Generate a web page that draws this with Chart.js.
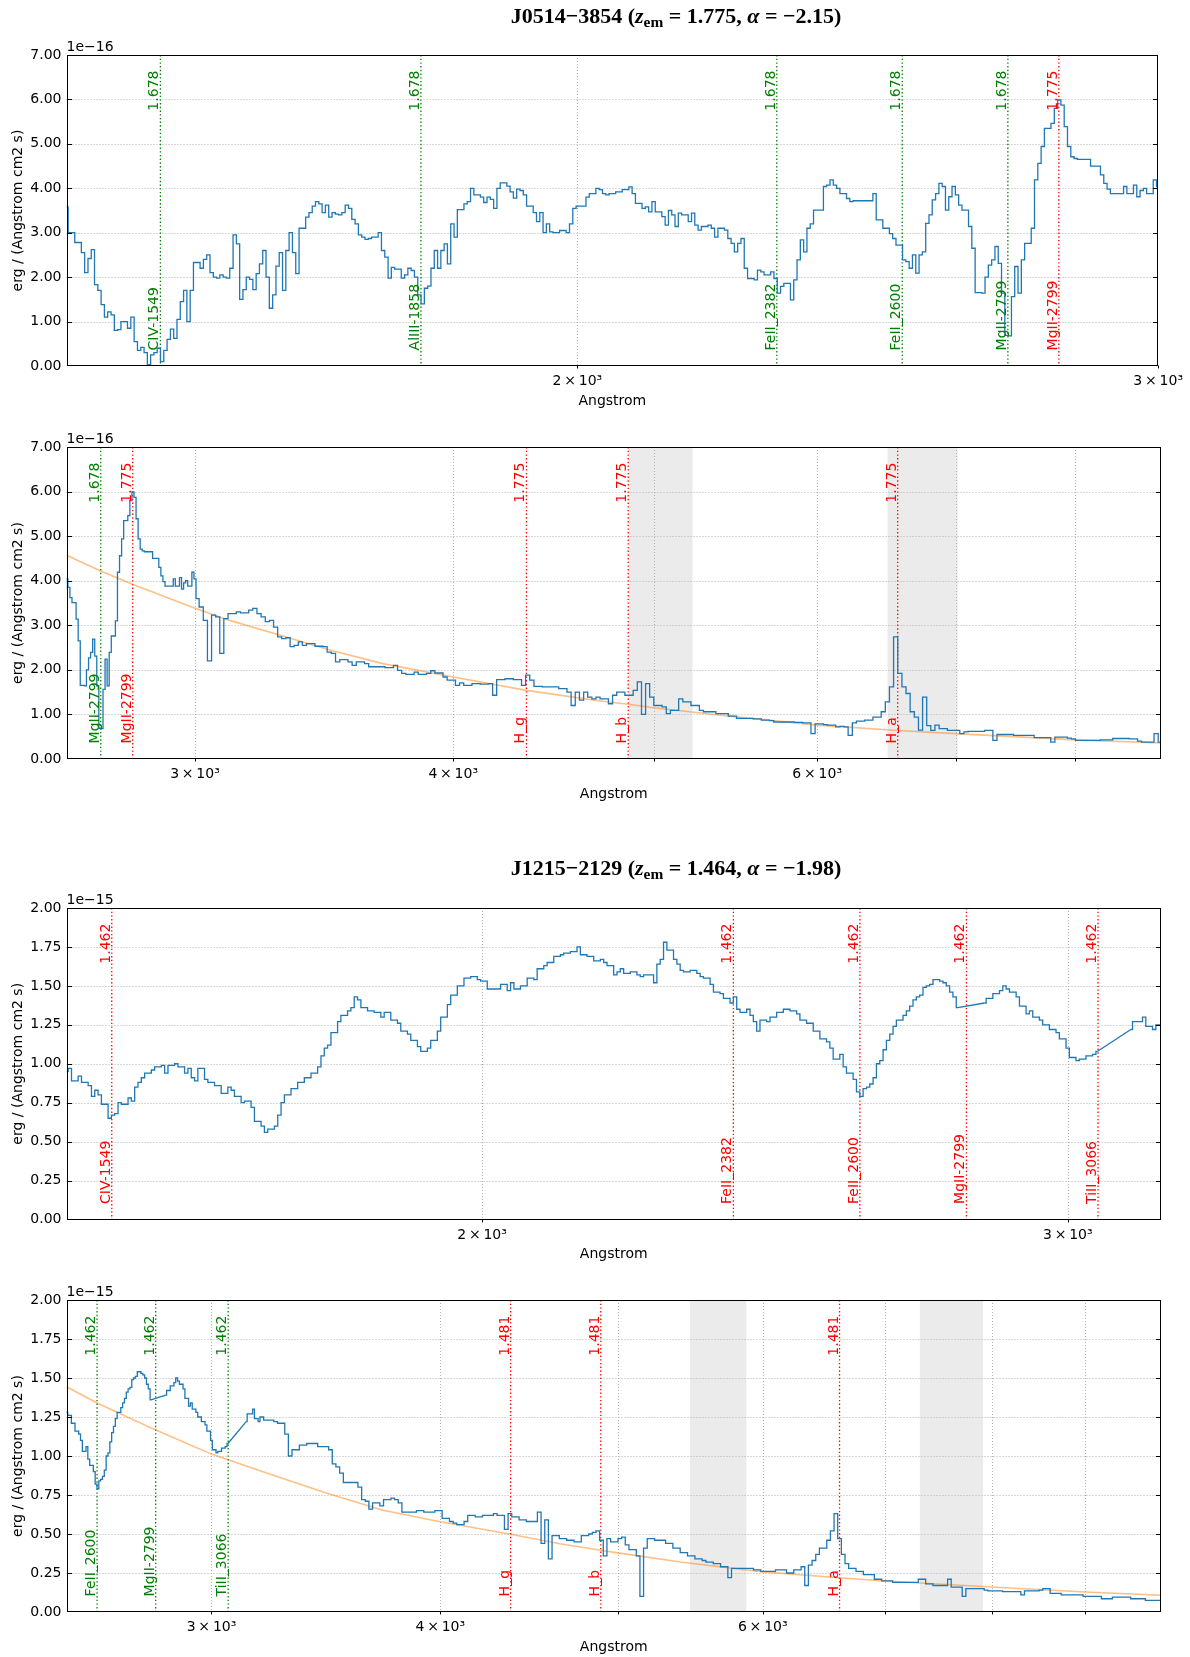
<!DOCTYPE html>
<html><head><meta charset="utf-8">
<script src="https://cdn.jsdelivr.net/npm/chart.js@4.4.1/dist/chart.umd.min.js"></script>
<style>
html,body{margin:0;padding:0;background:#fff;}
#wrap{position:relative;width:1190px;height:1657px;overflow:hidden;background:#fff;}
canvas{position:absolute;left:0;}
.ttl{position:absolute;z-index:5;font-family:"Liberation Serif","Times New Roman",serif;font-weight:bold;font-size:22px;color:#000;white-space:nowrap;transform:translate(-50%,-50%);}
.ttl sub{font-size:70%;vertical-align:-0.25em;font-style:normal;}
</style></head><body>
<div id="wrap">
<canvas id="c1" width="1190" height="420" style="top:0px"></canvas>
<canvas id="c2" width="1190" height="420" style="top:392px"></canvas>
<canvas id="c3" width="1190" height="420" style="top:853px"></canvas>
<canvas id="c4" width="1190" height="420" style="top:1245px"></canvas>
<div class="ttl" style="left:676px;top:17px">J0514−3854 (<i>z</i><sub>em</sub> = 1.775, <i>α</i> = −2.15)</div>
<div class="ttl" style="left:676px;top:869px">J1215−2129 (<i>z</i><sub>em</sub> = 1.464, <i>α</i> = −1.98)</div>
</div>
<script>
// ---------------- DATA ----------------
// J0514-3854 spectrum (rest-frame Angstrom, flux in 1e-16 erg/(A cm2 s))
const W1 = [
1400,1403.2,1406.5,1409.7,1413,1416.2,1419.5,1422.8,1426,1429.3,1432.6,1435.9,1439.2,1442.5,1445.9,1449.2,1452.5,1455.9,1459.2,1462.6,
1466,1469.4,1472.8,1476.2,1479.6,1483,1486.4,1489.8,1493.2,1496.7,1500.1,1503.6,1507.1,1510.5,1514,1517.5,1521,1524.5,1528,1531.5,
1535.1,1538.6,1542.2,1545.7,1549.3,1552.9,1556.4,1560,1563.6,1567.2,1570.8,1574.5,1578.1,1581.7,1585.4,1589,1592.7,1596.4,1600,1603.7,
1607.4,1611.1,1614.8,1618.6,1622.3,1626,1629.8,1633.5,1637.3,1641.1,1644.9,1648.7,1652.5,1656.3,1660.1,1663.9,1667.7,1671.6,1675.4,1679.3,
1683.2,1687.1,1690.9,1694.8,1698.7,1702.7,1706.6,1710.5,1714.5,1718.4,1722.4,1726.3,1730.3,1734.3,1738.3,1742.3,1746.3,1750.4,1754.4,1758.4,
1762.5,1766.6,1770.6,1774.7,1778.8,1782.9,1787,1791.1,1795.3,1799.4,1803.6,1807.7,1811.9,1816.1,1820.2,1824.4,1828.6,1832.9,1837.1,1841.3,
1845.6,1849.8,1854.1,1858.4,1862.6,1866.9,1871.2,1875.5,1879.9,1884.2,1888.6,1892.9,1897.3,1901.6,1906,1910.4,1914.8,1919.2,1923.7,1928.1,
1932.5,1937,1941.5,1945.9,1950.4,1954.9,1959.4,1963.9,1968.5,1973,1977.6,1982.1,1986.7,1991.3,1995.9,2000.5,2005.1,2009.7,2014.3,2019,
2023.6,2028.3,2033,2037.7,2042.3,2047.1,2051.8,2056.5,2061.2,2066,2070.8,2075.5,2080.3,2085.1,2089.9,2094.7,2099.6,2104.4,2109.3,2114.1,
2119,2123.9,2128.8,2133.7,2138.6,2143.5,2148.5,2153.4,2158.4,2163.4,2168.3,2173.3,2178.4,2183.4,2188.4,2193.4,2198.5,2203.6,2208.7,2213.7,
2218.9,2224,2229.1,2234.2,2239.4,2244.5,2249.7,2254.9,2260.1,2265.3,2270.5,2275.8,2281,2286.3,2291.5,2296.8,2302.1,2307.4,2312.7,2318.1,
2323.4,2328.8,2334.1,2339.5,2344.9,2350.3,2355.7,2361.2,2366.6,2372.1,2377.5,2383,2388.5,2394,2399.5,2405.1,2410.6,2416.2,2421.7,2427.3,
2432.9,2438.5,2444.2,2449.8,2455.4,2461.1,2466.8,2472.5,2478.2,2483.9,2489.6,2495.3,2501.1,2506.8,2512.6,2518.4,2524.2,2530,2535.9,2541.7,
2547.6,2553.5,2559.3,2565.2,2571.2,2577.1,2583,2589,2594.9,2600.9,2606.9,2612.9,2619,2625,2631,2637.1,2643.2,2649.3,2655.4,2661.5,
2667.7,2673.8,2680,2686.1,2692.3,2698.5,2704.8,2711,2717.2,2723.5,2729.8,2736.1,2742.4,2748.7,2755,2761.4,2767.8,2774.1,2780.5,2786.9,
2793.4,2799.8,2806.3,2812.7,2819.2,2825.7,2832.2,2838.8,2845.3,2851.9,2858.4,2865,2871.6,2878.2,2884.9,2891.5,2898.2,2904.9,2911.6,2918.3,
2925,2931.8,2938.5,2945.3,2952.1,2958.9,2965.7,2972.5,2979.4,2986.3,2993.1,3000,
3007,3021,3035,3049,
3063,3077,3091,3105,3120,3134,3149,3163,3178,3192,
3207,3222,3237,3252,3267,3282,3297,3312,3328,3343,
3358,3374,3389,3405,3421,3437,3452,3468,3484,3500,
3517,3533,3549,3566,3582,3599,3615,3632,3649,3665,
3682,3699,3716,3734,3751,3768,3786,3803,3821,3838,
3856,3874,3892,3910,3928,3946,3964,3982,4001,4019,
4038,4056,4075,4094,4113,4132,4151,4170,4189,4208,
4228,4247,4267,4287,4307,4326,4346,4366,4387,4407,
4427,4448,4468,4489,4509,4530,4551,4572,4593,4615,
4636,4657,4679,4700,4722,4744,4766,4788,4810,4832,
4854,4877,4899,4922,4945,4967,4990,5013,5036,5060,
5083,5107,5130,5154,5178,5201,5225,5250,5274,5298,
5323,5347,5372,5397,5422,5447,5472,5497,5522,5548,
5574,5599,5625,5651,5677,5703,5730,5756,5783,5809,
5836,5863,5890,5917,5945,5972,6000,6027,6055,6083,
6111,6139,6168,6196,6225,6254,6282,6311,6341,6370,
6399,6429,6458,6488,6518,6548,6579,6609,6639,6670,
6701,6732,6763,6794,6825,6857,6889,6920,6952,6984,
7017,7049,7082,7114,7147,7180,7213,7247,7280,7314,
7347,7381,7415,7450,7484,7518,7553,7588,7623,7658,
7694,7729,7765,7801,7837,7873,7909,7946,7982,8019,
8056,8093,8131,8168,8206,8244,8282,8320,8359,8397,
8436,8475,8514,8553,8593,8632,8672,8712,8752,8793,
8833];
const F1 = [
3.58,3.0,3.0,2.78,2.78,2.55,2.1,2.42,2.62,1.83,1.7,1.38,1.1,1.22,1.15,0.8,0.82,1.0,1.0,0.85,
1.1,0.55,0.35,0.42,0.3,0.03,0.25,0.3,0.4,0.1,0.35,0.6,0.83,0.62,1.05,1.45,1.7,1.0,1.7,2.33,
2.33,2.2,2.4,2.5,2.1,2.0,1.98,2.05,2.0,1.98,2.2,2.95,2.75,1.5,1.72,2.0,1.95,1.72,2.08,2.3,
2.6,2.0,1.3,1.6,2.25,2.55,1.7,2.6,3.0,2.55,2.08,3.1,3.1,3.35,3.45,3.6,3.7,3.65,3.45,3.62,
3.35,3.45,3.42,3.4,3.45,3.62,3.55,3.3,3.2,2.95,2.9,2.85,2.87,2.9,2.9,3.0,2.6,2.45,1.98,2.22,
2.18,2.18,1.98,2.05,2.2,2.15,2.0,1.6,1.4,1.75,1.8,2.2,2.6,2.2,2.6,2.75,2.3,3.2,2.9,3.52,
3.52,3.65,3.7,4.0,3.85,3.85,3.8,3.68,3.8,3.75,3.55,4.0,4.12,4.12,4.05,3.92,3.78,3.98,3.95,3.85,
3.6,3.6,3.45,3.25,3.45,3.0,3.2,3.02,3.0,3.0,3.05,3.05,3.0,3.2,3.55,3.6,3.6,3.6,3.8,3.88,
3.88,4.0,3.97,3.88,3.85,3.88,3.88,3.92,3.92,3.97,3.97,4.03,3.88,3.66,3.66,3.55,3.58,3.47,3.7,3.47,
3.47,3.36,3.17,3.5,3.4,3.14,3.44,3.4,3.4,3.25,3.44,3.17,3.06,3.14,3.14,3.17,3.1,2.9,3.1,3.1,
3.06,2.87,2.76,2.57,2.76,2.87,2.2,1.97,1.97,1.94,2.16,2.12,2.05,2.05,2.12,1.97,1.64,1.79,1.86,1.86,
1.49,1.94,2.39,2.84,2.57,3.1,3.2,3.51,3.51,3.51,4.04,4.07,4.19,4.07,4.0,3.88,3.88,3.77,3.7,3.72,
3.72,3.72,3.72,3.72,3.72,3.88,3.29,3.29,3.1,3.1,2.98,2.87,2.72,2.72,2.39,2.35,2.2,2.5,2.09,2.5,
2.57,3.21,3.4,3.74,3.88,4.11,4.04,3.51,3.81,4.04,3.85,3.62,3.51,3.51,3.14,2.65,1.65,1.65,1.64,2.0,
2.27,2.39,2.69,2.31,1.64,0.69,0.68,1.56,2.24,1.64,2.39,2.76,2.76,3.1,4.19,4.56,4.94,5.35,5.35,5.46,
5.8,5.99,5.87,5.39,4.94,4.71,4.67,4.65,4.65,4.65,4.65,4.5,4.5,4.5,4.3,4.11,3.98,3.88,3.88,3.88,
3.88,4.04,3.88,3.88,4.07,3.81,3.95,4.0,3.88,3.88,4.19,4.04,
3.6,3.41,3.11,2.2,
3.23,3.19,2.37,3.15,3.26,3.26,3.3,3.28,3.28,3.34,
3.38,3.26,3.19,3.08,3.11,2.96,2.74,2.7,2.72,2.52,
2.55,2.63,2.55,2.59,2.59,2.53,2.53,2.52,2.4,2.37,
2.18,2.23,2.23,2.18,2.1,2.18,2.18,2.14,2.07,2.07,
2.07,2.07,2.05,2.05,2.1,1.99,1.92,1.9,1.9,1.95,
1.9,1.9,1.92,1.98,1.93,1.93,1.84,1.77,1.77,1.65,
1.71,1.65,1.65,1.69,1.69,1.68,1.68,1.69,1.43,1.78,
1.78,1.8,1.8,1.78,1.78,1.65,1.88,1.77,1.63,1.63,
1.62,1.62,1.62,1.62,1.58,1.58,1.5,1.2,1.5,1.32,
1.5,1.39,1.35,1.39,1.35,1.35,1.24,1.43,1.5,1.5,
1.43,1.43,1.54,1.73,1.0,1.69,1.39,1.2,1.2,1.17,
1.02,1.09,1.09,1.35,1.28,1.28,1.2,1.2,1.09,1.06,
1.06,1.06,1.02,1.02,1.02,0.96,0.96,0.91,0.91,0.91,
0.91,0.9,0.9,0.87,0.87,0.86,0.83,0.83,0.83,0.83,
0.83,0.82,0.82,0.81,0.81,0.57,0.79,0.79,0.77,0.76,
0.76,0.72,0.73,0.72,0.53,0.81,0.85,0.85,0.87,0.87,
0.94,0.94,1.06,1.28,1.62,2.74,1.92,1.62,1.47,1.06,
0.94,0.65,1.39,0.75,0.64,0.76,0.68,0.68,0.64,0.64,
0.64,0.57,0.61,0.62,0.62,0.62,0.62,0.64,0.64,0.42,
0.55,0.55,0.55,0.55,0.53,0.53,0.53,0.53,0.53,0.48,
0.48,0.48,0.48,0.38,0.49,0.49,0.49,0.47,0.45,0.42,
0.42,0.42,0.42,0.42,0.42,0.43,0.43,0.43,0.46,0.46,
0.46,0.46,0.45,0.45,0.4,0.38,0.38,0.38,0.57,0.38,
0.38];
const FIT1_W = [2600,2701,2798,3000,3118,3296,3497,3698,4000,4340,4713,4861,5000,5389,6000,6563,7000,8000,8800];
const FIT1_F = [4.57,4.22,3.92,3.38,3.11,2.78,2.43,2.14,1.84,1.54,1.30,1.23,1.15,0.98,0.76,0.64,0.57,0.43,0.36];

// J1215-2129 spectrum (flux in 1e-15)
const W2 = [
1500,1503.5,1506.9,1510.4,1513.9,1517.4,1520.9,1524.4,1527.9,1531.4,1534.9,1538.5,1542,1545.6,1549.1,1552.7,1556.3,1559.9,1563.5,1567.1,
1570.7,1574.3,1577.9,1581.6,1585.2,1588.9,1592.6,1596.2,1599.9,1603.6,1607.3,1611,1614.7,1618.4,1622.2,1625.9,1629.6,1633.4,1637.2,1640.9,
1644.7,1648.5,1652.3,1656.1,1659.9,1663.8,1667.6,1671.4,1675.3,1679.2,1683,1686.9,1690.8,1694.7,1698.6,1702.5,1706.4,1710.4,1714.3,1718.3,
1722.2,1726.2,1730.2,1734.2,1738.2,1742.2,1746.2,1750.2,1754.3,1758.3,1762.4,1766.4,1770.5,1774.6,1778.7,1782.8,1786.9,1791,1795.1,1799.3,
1803.4,1807.6,1811.7,1815.9,1820.1,1824.3,1828.5,1832.7,1836.9,1841.2,1845.4,1849.7,1853.9,1858.2,1862.5,1866.8,1871.1,1875.4,1879.7,1884,
1888.4,1892.7,1897.1,1901.5,1905.9,1910.3,1914.7,1919.1,1923.5,1927.9,1932.4,1936.8,1941.3,1945.8,1950.3,1954.8,1959.3,1963.8,1968.3,1972.8,
1977.4,1982,1986.5,1991.1,1995.7,2000.3,2004.9,2009.5,2014.2,2018.8,2023.5,2028.1,2032.8,2037.5,2042.2,2046.9,2051.6,2056.3,2061.1,2065.8,
2070.6,2075.4,2080.1,2084.9,2089.7,2094.6,2099.4,2104.2,2109.1,2113.9,2118.8,2123.7,2128.6,2133.5,2138.4,2143.3,2148.3,2153.2,2158.2,2163.2,
2168.2,2173.2,2178.2,2183.2,2188.2,2193.3,2198.3,2203.4,2208.5,2213.6,2218.7,2223.8,2228.9,2234,2239.2,2244.4,2249.5,2254.7,2259.9,2265.1,
2270.3,2275.6,2280.8,2286.1,2291.4,2296.6,2301.9,2307.2,2312.6,2317.9,2323.2,2328.6,2333.9,2339.3,2344.7,2350.1,2355.5,2361,2366.4,2371.9,
2377.3,2382.8,2388.3,2393.8,2399.3,2404.9,2410.4,2416,2421.5,2427.1,2432.7,2438.3,2443.9,2449.6,2455.2,2460.9,2466.6,2472.2,2477.9,2483.7,
2489.4,2495.1,2500.9,2506.6,2512.4,2518.2,2524,2529.8,2535.7,2541.5,2547.4,2553.2,2559.1,2565,2570.9,2576.9,2582.8,2588.8,2594.7,2600.7,
2606.7,2612.7,2618.7,2624.8,2630.8,2636.9,2643,2649.1,2655.2,2661.3,2667.4,2673.6,2679.7,2685.9,2692.1,2698.3,2704.5,2710.8,2717,2723.3,
2729.6,2735.8,2742.2,2748.5,2754.8,2761.2,2767.5,2773.9,2780.3,2832,2838.5,2845.1,2851.6,
2858.2,2864.8,2871.4,2878,2884.6,2891.3,2898,2904.6,2911.3,2918,2924.8,2931.5,2938.3,2945,2951.8,2958.6,2965.5,2972.3,2979.1,2986,
2992.9,2999.8,3006.7,3013.6,3020.6,3027.5,3034.5,3041.5,3048.5,3055.6,3062.6,
3133.9,3141.2,3148.4,3155.7,3162.9,3170.2,3177.5,3184.9,3192.2,3199.6,
3207,3222,3237,3252,3267,
3282,3297,3312,3327,3343,3358,3374,3389,3405,3421,
3436,3452,3468,3484,3500,3516,3533,3549,3565,3582,
3598,3615,3632,3648,3665,3682,3699,3716,3733,3751,
3768,3785,3803,3820,3838,3856,3873,3891,3909,3927,
3945,3964,3982,4000,4019,4037,4056,4075,4093,4112,
4131,4150,4170,4189,4208,4228,4247,4267,4286,4306,
4326,4346,4366,4386,4406,4427,4447,4468,4488,4509,
4530,4551,4572,4593,4614,4635,4657,4678,4700,4722,
4743,4765,4787,4809,4832,4854,4876,4899,4921,4944,
4967,4990,5013,5036,5059,5083,5106,5130,5153,5177,
5201,5225,5249,5273,5298,5322,5347,5371,5396,5421,
5446,5471,5497,5522,5547,5573,5599,5625,5651,5677,
5703,5729,5756,5782,5809,5836,5863,5890,5917,5944,
5972,5999,6027,6055,6083,6111,6139,6167,6196,6224,
6253,6282,6311,6340,6369,6399,6428,6458,6488,6518,
6548,6578,6608,6639,6669,6700,6731,6762,6793,6825,
6856,6888,6920,6952,6984,7016,7048,7081,7114,7146,
7179,7213,7246,7279,7313,7347,7381,7415,7449,7483,
7518,7553,7587,7622,7658,7693,7728,7764,7800,7836,
7872,7908,7945,7982,8018,8055,8093,8130,8168,8205,
8243,8281,8319,8358,8396,8435,8474,8513,8552,8592,
8632,8671,8711,8752,8792,8833,8873,8914,8956,8997,
9038,9080,9122,9164,9206,9249,9292,9334,9378,9421,
9464,9508,9552,9596,9640,9685,9730,9774,9820,9865,
9910];
const F2 = [
0.95,0.97,0.89,0.89,0.92,0.88,0.88,0.86,0.79,0.83,0.8,0.74,0.74,0.65,0.67,0.68,0.75,0.74,0.74,0.78,
0.76,0.85,0.88,0.91,0.94,0.94,0.96,0.98,0.98,0.99,0.94,0.99,0.99,1.0,0.98,0.98,0.94,0.97,0.91,0.89,
0.97,0.97,0.9,0.88,0.88,0.86,0.86,0.81,0.81,0.85,0.83,0.79,0.79,0.75,0.76,0.76,0.72,0.63,0.63,0.6,
0.56,0.58,0.58,0.6,0.67,0.75,0.8,0.8,0.84,0.84,0.88,0.88,0.91,0.91,0.94,0.94,0.98,1.05,1.1,1.12,
1.2,1.2,1.27,1.31,1.31,1.34,1.36,1.43,1.41,1.36,1.36,1.34,1.34,1.33,1.33,1.3,1.33,1.33,1.28,1.28,
1.26,1.21,1.21,1.19,1.15,1.15,1.11,1.08,1.08,1.1,1.15,1.15,1.21,1.3,1.3,1.38,1.44,1.44,1.5,1.5,
1.55,1.55,1.56,1.56,1.54,1.53,1.53,1.48,1.48,1.48,1.48,1.51,1.51,1.47,1.52,1.48,1.48,1.5,1.5,1.55,
1.55,1.54,1.61,1.61,1.63,1.65,1.65,1.69,1.69,1.7,1.71,1.71,1.72,1.72,1.75,1.7,1.7,1.69,1.69,1.66,
1.66,1.67,1.65,1.63,1.63,1.57,1.59,1.61,1.58,1.58,1.59,1.59,1.57,1.56,1.57,1.57,1.57,1.52,1.64,1.67,
1.78,1.73,1.73,1.67,1.64,1.6,1.59,1.59,1.6,1.6,1.58,1.56,1.55,1.55,1.51,1.46,1.46,1.45,1.42,1.42,
1.39,1.43,1.35,1.33,1.33,1.35,1.31,1.27,1.21,1.28,1.28,1.27,1.3,1.3,1.33,1.33,1.35,1.35,1.34,1.34,
1.32,1.28,1.28,1.26,1.26,1.21,1.21,1.16,1.16,1.14,1.1,1.03,1.03,1.06,0.98,0.94,0.94,0.9,0.82,0.79,
0.84,0.85,0.87,0.91,1.0,1.02,1.09,1.15,1.19,1.24,1.28,1.28,1.31,1.34,1.37,1.41,1.43,1.44,1.49,1.5,
1.51,1.54,1.54,1.53,1.52,1.5,1.46,1.43,1.36,1.39,1.42,1.42,1.45,
1.45,1.47,1.5,1.48,1.46,1.46,1.43,1.37,1.37,1.32,1.34,1.3,1.3,1.28,1.25,1.25,1.22,1.22,1.2,1.16,
1.16,1.1,1.04,1.04,1.02,1.03,1.03,1.05,1.05,1.06,1.08,
1.22,1.27,1.27,1.27,1.3,1.24,1.24,1.22,1.25,1.25,
1.23,1.23,1.23,1.22,1.21,
1.21,1.14,1.0,1.04,1.04,1.07,1.07,1.08,1.08,1.08,
1.06,1.06,1.06,1.04,0.95,0.93,0.89,0.83,0.83,0.83,
0.83,0.8,0.72,0.71,0.66,0.7,0.7,0.68,0.72,0.72,
0.73,0.72,0.7,0.64,0.64,0.64,0.64,0.65,0.65,0.64,
0.64,0.64,0.65,0.65,0.6,0.6,0.58,0.57,0.56,0.56,
0.58,0.62,0.62,0.61,0.61,0.62,0.62,0.62,0.63,0.62,
0.62,0.53,0.63,0.61,0.61,0.59,0.59,0.58,0.58,0.58,
0.64,0.44,0.59,0.34,0.49,0.49,0.47,0.47,0.46,0.46,
0.45,0.45,0.49,0.49,0.5,0.51,0.52,0.46,0.36,0.47,
0.45,0.45,0.47,0.48,0.43,0.4,0.4,0.36,0.1,0.41,
0.47,0.47,0.46,0.46,0.46,0.44,0.44,0.41,0.41,0.38,
0.38,0.36,0.36,0.34,0.34,0.33,0.32,0.32,0.31,0.31,
0.29,0.29,0.22,0.28,0.28,0.28,0.28,0.28,0.28,0.27,
0.27,0.26,0.26,0.26,0.26,0.27,0.27,0.27,0.25,0.25,
0.27,0.27,0.29,0.17,0.3,0.33,0.37,0.41,0.41,0.46,
0.52,0.63,0.47,0.37,0.31,0.28,0.28,0.26,0.26,0.24,
0.24,0.24,0.21,0.21,0.2,0.2,0.2,0.19,0.19,0.19,
0.19,0.19,0.19,0.19,0.21,0.21,0.18,0.18,0.17,0.17,
0.17,0.17,0.21,0.16,0.16,0.16,0.1,0.15,0.15,0.15,
0.15,0.15,0.14,0.135,0.135,0.135,0.135,0.13,0.13,0.13,
0.13,0.13,0.11,0.135,0.135,0.135,0.135,0.14,0.15,0.15,
0.12,0.12,0.12,0.11,0.11,0.11,0.11,0.11,0.11,0.1,
0.1,0.1,0.1,0.1,0.085,0.085,0.085,0.095,0.095,0.095,
0.095,0.095,0.085,0.085,0.085,0.085,0.075,0.075,0.075,0.075,
0.075];
const FIT2_W = [2500,2598,2797,3000,3221,3462,3722,4000,4370,4649,4894,5000,5410,6000,6604,7000,8000,9000,9900];
const FIT2_F = [1.444,1.34,1.166,1.012,0.888,0.764,0.652,0.578,0.498,0.438,0.396,0.379,0.321,0.257,0.22,0.199,0.16,0.128,0.107];

// redshifts
const ZEM1 = 1.775, ZEM2 = 1.464;
// marked lines per panel: rest wavelength, line redshift, name
const P1_REST = [1549,1858,2382,2600,2799,2799];
const P1_Z    = [1.678,1.678,1.678,1.678,1.678,1.775];
const P1_NAME = ['CIV-1549','AlIII-1858','FeII_2382','FeII_2600','MgII-2799','MgII-2799'];
const P2_REST = [2799,2799,4340,4861,6563];
const P2_Z    = [1.678,1.775,1.775,1.775,1.775];
const P2_NAME = ['MgII-2799','MgII-2799','H_g','H_b','H_a'];
const P3_REST = [1549,2382,2600,2799,3066];
const P3_Z    = [1.462,1.462,1.462,1.462,1.462];
const P3_NAME = ['CIV-1549','FeII_2382','FeII_2600','MgII-2799','TiII_3066'];
const P4_REST = [2600,2799,3066,4340,4861,6563];
const P4_Z    = [1.462,1.462,1.462,1.481,1.481,1.481];
const P4_NAME = ['FeII_2600','MgII-2799','TiII_3066','H_g','H_b','H_a'];
// shaded windows (Angstrom)
const P2_SPANS = [[4865,5222],[6489,7016]];
const P4_SPANS = [[5476,5877],[7311,7916]];
// axis ranges and ticks
const P1_XR = [1400,3000], P2_XR = [2600,8800], P3_XR = [1500,3200], P4_XR = [2500,9900];
const P1_XT = [2000,3000], P2_XT = [3000,4000,5000,6000,7000,8000];
const P3_XT = [2000,3000], P4_XT = [3000,4000,5000,6000,7000,8000,9000];
const XLAB = {2000:'2\u2009×\u200910³',3000:'3\u2009×\u200910³',4000:'4\u2009×\u200910³',6000:'6\u2009×\u200910³'};
const YT_A = [0,1,2,3,4,5,6,7];
const YT_B = [0,0.25,0.5,0.75,1,1.25,1.5,1.75,2];

// ---------------- STYLE / RENDER ----------------
const BLUE = '#1f77b4', GREEN = '#008000', RED = '#ff0000';
const FONT = '"DejaVu Sans", "Liberation Sans", sans-serif';
Chart.defaults.color = '#000';
Chart.defaults.font.family = FONT;
Chart.defaults.font.size = 14;

function specData(W, F) {
  const n = Math.min(W.length, F.length);
  if (W.length !== F.length) console.warn('length mismatch', W.length, F.length);
  const pts = [], bridges = [];
  for (let i = 0; i < n; i++) {
    if (i > 0 && W[i] / W[i-1] > 1.007) {
      pts.push({x: Math.sqrt(W[i]*W[i-1]), y: null});
      bridges.push([{x: W[i-1], y: F[i-1]}, {x: W[i], y: F[i]}]);
    }
    pts.push({x: W[i], y: F[i]});
  }
  return {pts, bridges};
}

const decor = {
  id: 'decor',
  beforeDatasetsDraw(chart, args, o) {
    const {ctx, chartArea: a, scales: {x, y}} = chart;
    ctx.save();
    (o.spans || []).forEach(([w0, w1]) => {
      const x0 = x.getPixelForValue(w0), x1 = x.getPixelForValue(w1);
      ctx.fillStyle = 'rgba(128,128,128,0.16)';
      ctx.fillRect(x0, a.top, x1 - x0, a.bottom - a.top);
    });
    ctx.strokeStyle = '#b0b0b0'; ctx.lineWidth = 1; ctx.setLineDash([1, 2]);
    x.ticks.forEach(t => {
      const px = Math.round(x.getPixelForValue(t.value)) + 0.5;
      if (px < a.left + 2 || px > a.right - 2) return;
      ctx.beginPath(); ctx.moveTo(px, a.top); ctx.lineTo(px, a.bottom); ctx.stroke();
    });
    y.ticks.forEach(t => {
      const py = Math.round(y.getPixelForValue(t.value)) + 0.5;
      if (py < a.top + 2 || py > a.bottom - 2) return;
      ctx.beginPath(); ctx.moveTo(a.left, py); ctx.lineTo(a.right, py); ctx.stroke();
    });
    ctx.lineWidth = 1.3; ctx.setLineDash([1.4, 2.3]);
    o.rest.forEach((r, i) => {
      const w = r * (1 + o.z[i]) / (1 + o.zem);
      const px = x.getPixelForValue(w);
      if (px < a.left || px > a.right) return;
      ctx.strokeStyle = o.colors[i];
      ctx.beginPath(); ctx.moveTo(px, a.top); ctx.lineTo(px, a.bottom); ctx.stroke();
    });
    ctx.restore();
  },
  afterDatasetsDraw(chart, args, o) {
    const {ctx, chartArea: a, scales: {x, y}} = chart;
    const H = a.bottom - a.top;
    ctx.save();
    ctx.font = '14px ' + FONT;
    ctx.textBaseline = 'alphabetic';
    o.rest.forEach((r, i) => {
      const w = r * (1 + o.z[i]) / (1 + o.zem);
      const px = x.getPixelForValue(w);
      if (px < a.left || px > a.right) return;
      ctx.fillStyle = o.colors[i];
      ctx.save(); ctx.translate(px - 2, a.top + 0.05 * H); ctx.rotate(-Math.PI / 2);
      ctx.textAlign = 'right'; ctx.fillText(o.z[i].toFixed(3), 0, 0); ctx.restore();
      ctx.save(); ctx.translate(px - 2, a.bottom - 0.05 * H); ctx.rotate(-Math.PI / 2);
      ctx.textAlign = 'left'; ctx.fillText(o.names[i], 0, 0); ctx.restore();
    });
    const L = Math.round(a.left) + 0.5, R = Math.round(a.right) - 0.5;
    const T = Math.round(a.top) + 0.5, B = Math.round(a.bottom) - 0.5;
    ctx.strokeStyle = '#000'; ctx.lineWidth = 1; ctx.setLineDash([]);
    ctx.strokeRect(L, T, R - L, B - T);
    y.ticks.forEach(t => {
      const py = Math.round(y.getPixelForValue(t.value)) + 0.5;
      if (py < a.top + 2 || py > a.bottom - 2) return;
      ctx.beginPath(); ctx.moveTo(L, py); ctx.lineTo(L + 4.5, py); ctx.stroke();
      ctx.beginPath(); ctx.moveTo(R, py); ctx.lineTo(R - 4.5, py); ctx.stroke();
    });
    x.ticks.forEach(t => {
      const px = Math.round(x.getPixelForValue(t.value)) + 0.5;
      if (px < a.left - 1 || px > a.right + 1) return;
      ctx.beginPath(); ctx.moveTo(px, B); ctx.lineTo(px, B + 3); ctx.stroke();
    });
    ctx.fillStyle = '#000'; ctx.textAlign = 'left';
    ctx.fillText(o.offset, a.left, a.top - 4.5);
    ctx.restore();
  }
};

function makeChart(id, c) {
  const spec = specData(c.W, c.F);
  const datasets = [{data: spec.pts, borderColor: BLUE, borderWidth: 1.3, stepped: 'middle', pointRadius: 0, spanGaps: false, fill: false}];
  spec.bridges.forEach(b => datasets.push({data: b, borderColor: BLUE, borderWidth: 1.3, pointRadius: 0, fill: false}));
  if (c.fitW) datasets.push({data: c.fitW.map((w, i) => ({x: w, y: c.fitF[i]})), borderColor: 'rgba(255,127,14,0.5)', borderWidth: 1.6, pointRadius: 0, fill: false, tension: 0});
  new Chart(document.getElementById(id), {
    type: 'line',
    data: {datasets},
    options: {
      responsive: false, animation: false, devicePixelRatio: 1,
      layout: {padding: {top: 55, right: 29, left: 0, bottom: 0}},
      plugins: {legend: {display: false}, tooltip: {enabled: false},
        decor: {rest: c.rest, z: c.z, names: c.names, colors: c.colors, zem: c.zem, spans: c.spans, offset: c.offset}},
      scales: {
        x: {type: 'logarithmic', min: c.xr[0], max: c.xr[1], offset: false,
          grid: {display: false, drawTicks: false}, border: {display: false},
          afterBuildTicks: s => { s.ticks = c.xt.map(v => ({value: v})); },
          afterFit: s => { s.height = c.xh; },
          ticks: {autoSkip: false, maxRotation: 0, minRotation: 0, padding: 7, color: '#000', font: {family: FONT, size: 14},
            callback: v => XLAB[v] || ''},
          title: {display: true, text: 'Angstrom', color: '#000', font: {family: FONT, size: 14}, padding: {top: 0, bottom: c.tpb}}},
        y: {type: 'linear', min: 0, max: c.yt[c.yt.length - 1],
          grid: {display: false, drawTicks: false}, border: {display: false},
          afterBuildTicks: s => { s.ticks = c.yt.map(v => ({value: v})); },
          afterFit: s => { s.width = 66.5; },
          ticks: {padding: 5, color: '#000', font: {family: FONT, size: 14}, callback: v => Number(v).toFixed(2)},
          title: {display: true, text: 'erg / (Angstrom cm2 s)', color: '#000', font: {family: FONT, size: 14}, padding: {top: 9.6, bottom: 0}}}
      }
    },
    plugins: [decor]
  });
}

makeChart('c1', {W: W1, F: F1, xr: P1_XR, xt: P1_XT, yt: YT_A, xh: 54, tpb: 10.6, zem: ZEM1, offset: '1e\u221216',
  rest: P1_REST, z: P1_Z, names: P1_NAME, colors: [GREEN, GREEN, GREEN, GREEN, GREEN, RED], spans: []});
makeChart('c2', {W: W1, F: F1, xr: P2_XR, xt: P2_XT, yt: YT_A, xh: 53, tpb: 9.6, zem: ZEM1, offset: '1e\u221216',
  rest: P2_REST, z: P2_Z, names: P2_NAME, colors: [GREEN, RED, RED, RED, RED], spans: P2_SPANS, fitW: FIT1_W, fitF: FIT1_F});
makeChart('c3', {W: W2, F: F2, xr: P3_XR, xt: P3_XT, yt: YT_B, xh: 53.5, tpb: 10.1, zem: ZEM2, offset: '1e\u221215',
  rest: P3_REST, z: P3_Z, names: P3_NAME, colors: [RED, RED, RED, RED, RED], spans: []});
makeChart('c4', {W: W2, F: F2, xr: P4_XR, xt: P4_XT, yt: YT_B, xh: 53, tpb: 9.6, zem: ZEM2, offset: '1e\u221215',
  rest: P4_REST, z: P4_Z, names: P4_NAME, colors: [GREEN, GREEN, GREEN, RED, RED, RED], spans: P4_SPANS, fitW: FIT2_W, fitF: FIT2_F});
</script>
</body></html>
